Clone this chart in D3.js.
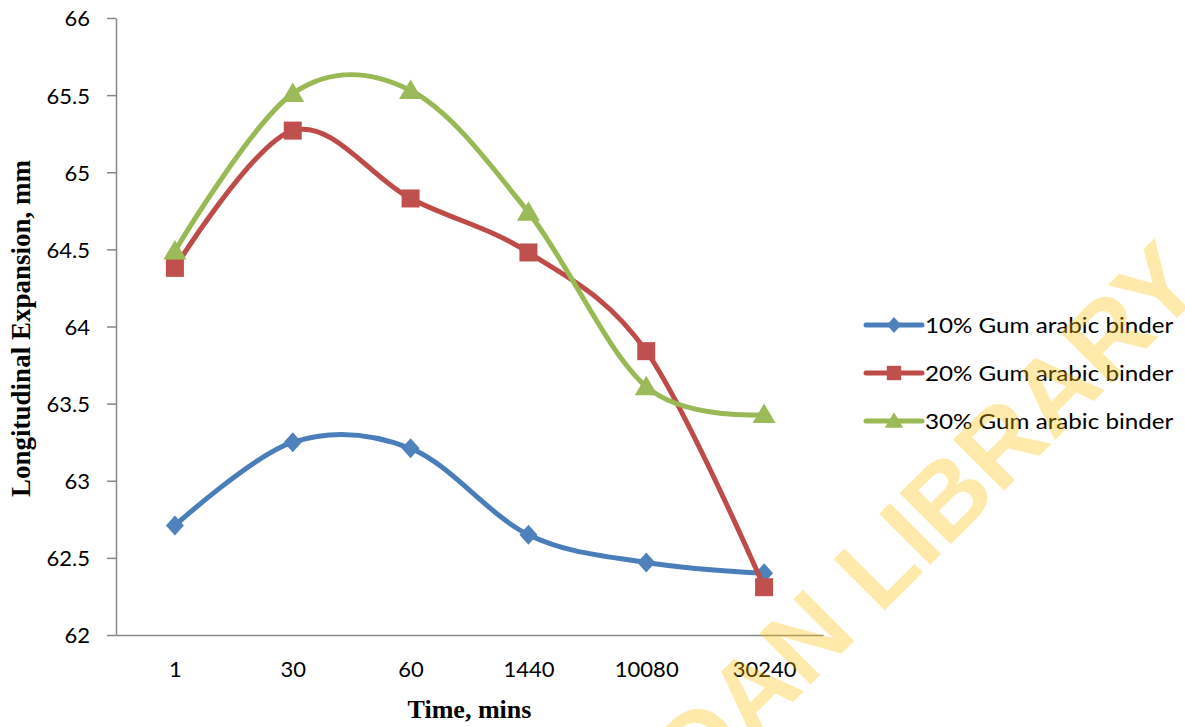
<!DOCTYPE html>
<html>
<head>
<meta charset="utf-8">
<script src="https://cdn.jsdelivr.net/npm/d3@7"></script>
<style>
  html, body { margin: 0; padding: 0; background: #ffffff; }
  svg { display: block; }
</style>
</head>
<body>
<svg id="chart" width="1185" height="727"></svg>
<script>
// ---- data ----
const categories = ["1", "30", "60", "1440", "10080", "30240"];
const seriesNames = ["10% Gum arabic binder", "20% Gum arabic binder", "30% Gum arabic binder"];
const values10 = [62.71, 63.25, 63.21, 62.65, 62.47, 62.40];
const values20 = [64.38, 65.27, 64.83, 64.48, 63.84, 62.31];
const values30 = [64.49, 65.51, 65.53, 64.74, 63.61, 63.43];
const yTicks = [62, 62.5, 63, 63.5, 64, 64.5, 65, 65.5, 66];
const xTitle = "Time, mins";
const yTitle = "Longitudinal Expansion, mm";
const watermark = "UNIVERSITY OF IBADAN LIBRARY";

// ---- styling ----
const lineColors = ["#4A7EBB", "#BE4B48", "#98B954"];
const markerColors = ["#4F81BD", "#C0504D", "#9BBB59"];
const markerTypes = ["diamond", "square", "triangle"];
const sansFont = "Lato, 'Open Sans', sans-serif";
const serifFont = "'Liberation Serif', 'Times New Roman', serif";

const svg = d3.select("#chart");
const plot = { left: 116, right: 823, top: 18, bottom: 635 };

const x = d3.scalePoint().domain(categories).range([plot.left, plot.right]).padding(0.5);
const y = d3.scaleLinear().domain([62, 66]).range([plot.bottom, plot.top]);

// ---- axes ----
const yAxis = svg.append("g")
  .attr("transform", `translate(${plot.left},0)`)
  .call(d3.axisLeft(y).tickValues(yTicks).tickSize(9).tickSizeOuter(0).tickPadding(17)
        .tickFormat(d => String(d)));
yAxis.select(".domain").attr("stroke", "#868686").attr("stroke-width", 1.5);
yAxis.selectAll(".tick line").attr("stroke", "#868686").attr("stroke-width", 1.5);
yAxis.selectAll(".tick text")
  .attr("font-family", sansFont).attr("font-size", 22).attr("fill", "#000").attr("dy", "0.36em");

const xAxis = svg.append("g")
  .attr("transform", `translate(0,${plot.bottom})`)
  .call(d3.axisBottom(x).tickSize(0).tickSizeOuter(0).tickPadding(26));
xAxis.select(".domain").attr("stroke", "#868686").attr("stroke-width", 1.5);
xAxis.selectAll(".tick text")
  .attr("font-family", sansFont).attr("font-size", 22).attr("fill", "#000");

// axis titles
svg.append("text")
  .attr("x", (plot.left + plot.right) / 2).attr("y", 718)
  .attr("text-anchor", "middle")
  .attr("font-family", serifFont).attr("font-weight", "bold").attr("font-size", 26)
  .attr("fill", "#000").text(xTitle);

svg.append("text")
  .attr("transform", `translate(30,${(plot.top + plot.bottom) / 2 + 2}) rotate(-90)`)
  .attr("text-anchor", "middle")
  .attr("font-family", serifFont).attr("font-weight", "bold").attr("font-size", 27)
  .attr("fill", "#000").text(yTitle);

// ---- markers ----
function markerPath(type) {
  if (type === "diamond") return "M0,-10L9,0L0,10L-9,0Z";
  if (type === "square") return "M-9,-9H9V9H-9Z";
  return "M0,-11L11.5,8.5L-11.5,8.5Z";
}

// ---- series ----
const allSeries = [values10, values20, values30];
const line = d3.line()
  .x((d, i) => x(categories[i]))
  .y(d => y(d))
  .curve(d3.curveCardinal.tension(0));

allSeries.forEach((vals, si) => {
  const g = svg.append("g");
  g.append("path")
    .datum(vals)
    .attr("d", line)
    .attr("fill", "none")
    .attr("stroke", lineColors[si])
    .attr("stroke-width", 5)
    .attr("stroke-linejoin", "round")
    .attr("stroke-linecap", "round");
  g.selectAll("path.mk")
    .data(vals)
    .join("path")
    .attr("class", "mk")
    .attr("d", markerPath(markerTypes[si]))
    .attr("transform", (d, i) => `translate(${x(categories[i])},${y(d)})`)
    .attr("fill", markerColors[si]);
});

// ---- legend ----
const legend = svg.append("g").attr("transform", "translate(866,0)");
const legendRows = [325, 373, 421];
seriesNames.forEach((name, i) => {
  const row = legend.append("g").attr("transform", `translate(0,${legendRows[i]})`);
  row.append("line")
    .attr("x1", 0).attr("x2", 56).attr("y1", 0).attr("y2", 0)
    .attr("stroke", lineColors[i]).attr("stroke-width", 5).attr("stroke-linecap", "round");
  row.append("path")
    .attr("d", markerPath(markerTypes[i]))
    .attr("transform", `translate(28,0) scale(0.8)`)
    .attr("fill", markerColors[i]);
  row.append("text")
    .attr("transform", "translate(59,0) scale(1.1,1)")
    .attr("dy", "0.36em")
    .attr("font-family", sansFont).attr("font-size", 22).attr("fill", "#000")
    .text(name);
});

// ---- watermark overlay ----
svg.append("text")
  .attr("transform", "translate(1207,288) rotate(-45)")
  .attr("text-anchor", "end")
  .attr("font-family", "'Liberation Sans', Arial, sans-serif")
  .attr("font-weight", "bold")
  .attr("font-size", 105)
  .attr("fill", "#FFC000")
  .attr("fill-opacity", 0.33)
  .text(watermark);
</script>
</body>
</html>
